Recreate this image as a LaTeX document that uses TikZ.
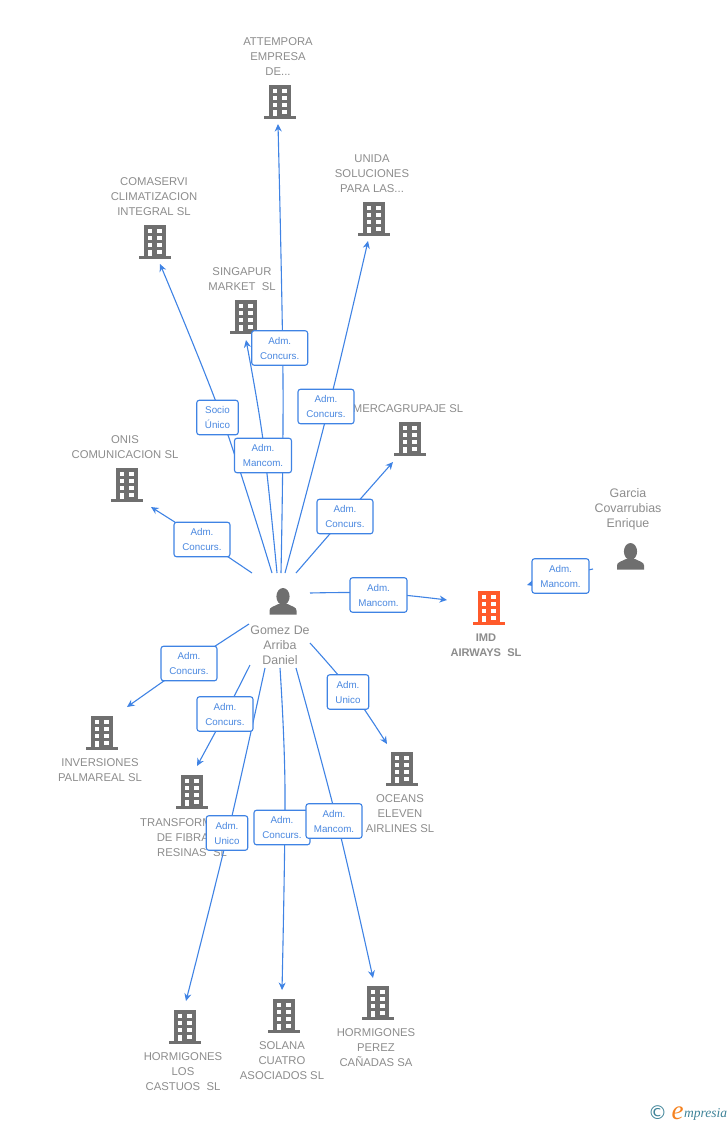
\documentclass[tikz,border=0pt]{standalone}
\usepackage{fontspec}
\setmainfont{Liberation Sans}
\newfontfamily\logofont{Liberation Serif}
\newfontfamily\symfont{DejaVu Sans}
\usetikzlibrary{arrows.meta}
\definecolor{linkblue}{HTML}{3F83E4}
\definecolor{labelblue}{HTML}{4A88E0}
\definecolor{icongray}{HTML}{6F6F6F}
\definecolor{textgray}{HTML}{8C8C8C}
\definecolor{imdorange}{HTML}{FF5A2B}
\definecolor{logoteal}{HTML}{3E8398}
\definecolor{logoorange}{HTML}{F58220}
\pgfdeclarelayer{names}
\pgfdeclarelayer{conns}
\pgfsetlayers{names,conns,main}
\tikzset{
  conn/.style={draw=linkblue,line width=1.1pt},
  connarrow/.style={conn,-{Stealth[length=7.5pt,width=7pt]}},
  linkbox/.style={draw=linkblue,line width=1.1pt,rounded corners=2.5pt,
    fill=white,
    text=labelblue,font=\fontsize{9.8}{15}\selectfont,align=center,
    inner sep=0pt,minimum height=34.5pt},
  wide/.style={linkbox,minimum width=56pt},
  narrow/.style={linkbox,minimum width=41.5pt},
  entity/.style={text=textgray,font=\fontsize{11.3}{15}\selectfont,align=center,inner sep=0pt},
  person/.style={text=textgray,font=\fontsize{12.4}{15}\selectfont,align=center,inner sep=0pt},
}
% centre x, top y, colour
\newcommand{\bldg}[3]{%
  \begin{scope}[shift={(#1,#2)}]
    \fill[#3] (-11,0) rectangle (11,31);
    \fill[#3] (-16,31) rectangle (16,33.5);
    \foreach \wy in {4,11,18,25}{\fill[white] (2.2,\wy) rectangle (6.8,\wy+4.2);}
    \foreach \wy in {4,11,18}{\fill[white] (-7.2,\wy) rectangle (-2.8,\wy+4.2);}
    \fill[white] (-7.2,25) rectangle (-2.8,31);
  \end{scope}}
% centre x, top y
\newcommand{\persn}[2]{%
  \begin{scope}[shift={(#1,#2)}]
    \fill[icongray] (0,8.5) ellipse [x radius=6.6pt,y radius=8.5pt];
    \fill[icongray] (-13.5,26.5) -- (-13.5,22.5) .. controls (-13.5,19) and (-9,18.5) .. (-4.5,16)
      -- (4.5,16) .. controls (9,18.5) and (13.5,19) .. (13.5,22.5) -- (13.5,26.5) -- cycle;
  \end{scope}}
\newcommand{\link}[4][connarrow]{%
  \draw[#1] plot[smooth,tension=0.6] coordinates {(#2) (#3) (#4)};}
\begin{document}
\begin{tikzpicture}[x=1pt,y=-1pt]
\useasboundingbox (0,0) rectangle (728,1125);

\begin{pgfonlayer}{names}
  \bldg{280}{85}{icongray}
  \bldg{155}{225}{icongray}
  \bldg{374}{202}{icongray}
  \bldg{246}{300}{icongray}
  \bldg{410}{422}{icongray}
  \bldg{127}{468}{icongray}
  \bldg{102}{716}{icongray}
  \bldg{192}{775}{icongray}
  \bldg{402}{752}{icongray}
  \bldg{185}{1010}{icongray}
  \bldg{284}{999}{icongray}
  \bldg{378}{986}{icongray}
  \bldg{489}{591}{imdorange}
  \persn{283}{588}
  \persn{630.5}{543}

  \node[entity] (nAtt) at (278,57) {ATTEMPORA\\EMPRESA\\DE...};
  \node[entity] (nCom) at (154,197) {COMASERVI\\CLIMATIZACION\\INTEGRAL SL};
  \node[entity] (nUni) at (372,174) {UNIDA\\SOLUCIONES\\PARA LAS...};
  \node[entity] (nSin) at (242,279.5) {SINGAPUR\\MARKET\ \ SL};
  \node[entity] (nMer) at (408,409) {MERCAGRUPAJE SL};
  \node[entity] (nOni) at (125,447.5) {ONIS\\COMUNICACION SL};
  \node[person] (nGom) at (280,645) {Gomez De\\Arriba\\Daniel};
  \node[person] (nGar) at (628,509.5) {Garcia\\Covarrubias\\Enrique};
  \node[entity,font=\fontsize{11.1}{15}\selectfont\bfseries] (nImd) at (486,645) {IMD\\AIRWAYS\ \ SL};
  \node[entity] (nInv) at (100,770.5) {INVERSIONES\\PALMAREAL SL};
  \node[entity] (nTra) at (192,838) {TRANSFORM\phantom{ADOS}\\DE FIBRA\phantom{S Y}\\RESINAS\ \ SL};
  \node[entity] (nOce) at (400,814) {OCEANS\\ELEVEN\\AIRLINES SL};
  \node[entity] (nHlo) at (183,1072) {HORMIGONES\\LOS\\CASTUOS\ \ SL};
  \node[entity] (nSol) at (282,1061) {SOLANA\\CUATRO\\ASOCIADOS SL};
  \node[entity] (nHpe) at (376,1048) {HORMIGONES\\PEREZ\\CAÑADAS SA};
\end{pgfonlayer}

% link labels
\node[narrow] (lSoc) at (217.5,417.5) {Socio\\Único};
\node[wide] (lAtt) at (279.7,348) {Adm.\\Concurs.};
\node[wide,minimum width=57pt] (lSin) at (263,455.5) {Adm.\\Mancom.};
\node[wide] (lUni) at (326,406.5) {Adm.\\Concurs.};
\node[wide] (lMer) at (345,516.5) {Adm.\\Concurs.};
\node[wide] (lOni) at (202,539.5) {Adm.\\Concurs.};
\node[wide,minimum width=57pt] (lImd) at (378.5,595) {Adm.\\Mancom.};
\node[wide,minimum width=57pt] (lGar) at (560.5,576) {Adm.\\Mancom.};
\node[wide] (lInv) at (189,663.5) {Adm.\\Concurs.};
\node[wide] (lTra) at (225,714) {Adm.\\Concurs.};
\node[narrow] (lOce) at (348,692) {Adm.\\Unico};
\node[narrow] (lHlo) at (227,833) {Adm.\\Unico};
\node[wide] (lSol) at (282,827.5) {Adm.\\Concurs.};
\node[wide] (lHpe) at (334,821) {Adm.\\Mancom.};

% free ends and bends
\coordinate (sOni) at (252,573);  \coordinate (eOni) at (151,507);
\coordinate (sCom) at (272,573);  \coordinate (mCom) at (222,418); \coordinate (eCom) at (160,264);
\coordinate (sSin) at (277,573);  \coordinate (mSin) at (263,440); \coordinate (eSin) at (246,340);
\coordinate (sAtt) at (281,573);  \coordinate (mAtt) at (283,380); \coordinate (eAtt) at (278,124);
\coordinate (sUni) at (285,573);  \coordinate (mUni) at (329,406); \coordinate (eUni) at (368,241);
\coordinate (sMer) at (296,573);  \coordinate (eMer) at (393,462);
\coordinate (sImd) at (310,593);  \coordinate (mImd) at (378,593); \coordinate (eImd) at (447,600);
\coordinate (sGar) at (593,569);  \coordinate (eGar) at (527,585);
\coordinate (sInv) at (249,624);  \coordinate (eInv) at (127,707);
\coordinate (sTra) at (250,665);  \coordinate (eTra) at (197,766);
\coordinate (sHlo) at (265,668);  \coordinate (mHlo) at (228,833); \coordinate (eHlo) at (186,1001);
\coordinate (sSol) at (280,668);  \coordinate (mSol) at (285,790); \coordinate (eSol) at (282,990);
\coordinate (sHpe) at (296,668);  \coordinate (mHpe) at (337,821); \coordinate (eHpe) at (373,978);
\coordinate (sOce) at (310,643);  \coordinate (mOce) at (352,692); \coordinate (eOce) at (387,744);

\begin{pgfonlayer}{conns}
  \link{sOni}{lOni.center}{eOni}
  \link{sCom}{mCom}{eCom}
  \link{sSin}{mSin}{eSin}
  \link{sAtt}{mAtt}{eAtt}
  \link{sUni}{mUni}{eUni}
  \link{sMer}{lMer.center}{eMer}
  \link{sImd}{mImd}{eImd}
  \link{sGar}{lGar.center}{eGar}
  \link{sInv}{lInv.center}{eInv}
  \link{sTra}{lTra.center}{eTra}
  \link{sHlo}{mHlo}{eHlo}
  \link{sSol}{mSol}{eSol}
  \link{sHpe}{mHpe}{eHpe}
  \link{sOce}{mOce}{eOce}
\end{pgfonlayer}

% logo
\node[text=logoteal,font=\symfont\fontsize{19}{19}\selectfont,inner sep=0pt] (logoC) at (657.5,1113) {©};
\node[text=logoorange,font=\logofont\itshape\fontsize{27}{27}\selectfont,inner sep=0pt] (logoE) at (677.5,1113) {e};
\node[text=logoteal,font=\logofont\itshape\fontsize{13.5}{14}\selectfont,inner sep=0pt,anchor=west] (logoT) at (684,1114) {mpresia};
\end{tikzpicture}
\end{document}
